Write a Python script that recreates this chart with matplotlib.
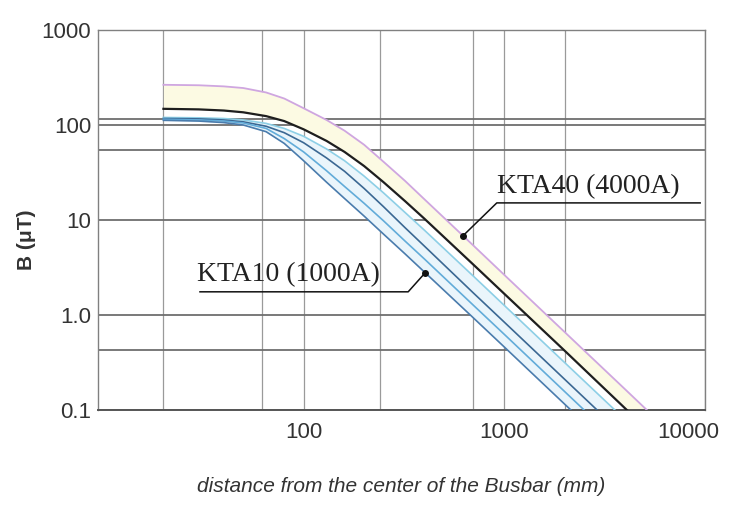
import matplotlib
matplotlib.use("Agg")
import matplotlib.pyplot as plt
from matplotlib.lines import Line2D
from matplotlib.transforms import ScaledTranslation

# ---- data ----
distance_mm = [20, 30, 40, 50, 65, 80, 100, 130, 160, 200, 250, 320, 400, 700, 1000, 2000, 4000, 6000]
b_pink  = [265, 262, 255, 245, 220, 190, 150, 113, 87, 62, 41, 25.8, 16.5, 5.4, 2.64, 0.66, 0.165, 0.073]
b_black = [148, 146, 142, 136, 124, 110, 90, 68, 52, 37, 25, 15.8, 10.3, 3.4, 1.67, 0.42, 0.104, 0.046]
b_blue4 = [120, 119, 117, 113, 104, 92, 76, 56, 42, 29, 19.3, 12, 7.8, 2.57, 1.26, 0.315, 0.079, 0.035]
b_blue3 = [117, 116, 113, 108, 97, 83, 65, 45, 32.5, 21.5, 13.8, 8.3, 5.3, 1.71, 0.84, 0.21, 0.0525, 0.023]
b_blue2 = [115, 113, 110, 105, 92, 72, 52, 33, 22.5, 15, 9.8, 6.0, 3.88, 1.27, 0.625, 0.156, 0.039, 0.017]
b_blue1 = [112, 110, 106, 100, 85, 64, 42, 25, 16.8, 11, 7.1, 4.4, 2.83, 0.935, 0.46, 0.115, 0.029, 0.013]

x_major_ticks = [100, 1000, 10000]
x_major_labels = ["100", "1000", "10000"]
y_major_ticks = [0.1, 1, 10, 100, 1000]
y_major_labels = ["0.1", "1.0", "10", "100", "1000"]
x_grid_extra = [20, 62, 240, 700, 2000]
y_grid_extra = [0.43, 55, 116]

label_kta40 = "KTA40 (4000A)"
label_kta10 = "KTA10 (1000A)"
xlabel = "distance from the center of the Busbar (mm)"
ylabel = "B (\u03bcT)"

# ---- figure ----
fig = plt.figure(figsize=(7.29, 5.16), dpi=100)
ax = fig.add_axes([98/729, (516-410)/516, 607/729, 380/516])
ax.set_xscale("log")
ax.set_yscale("log")
ax.set_xlim(9.44, 10000)
ax.set_ylim(0.1, 1000)

# fills
ax.fill_between(distance_mm, b_black, b_pink, color="#fcfae3", lw=0, zorder=1)
ax.fill_between(distance_mm, b_blue1, b_blue4, color="#eaf5fb", lw=0, zorder=1)

# curves
ax.plot(distance_mm, b_pink, color="#cfa6e0", lw=1.3, zorder=3)
ax.plot(distance_mm, b_blue4, color="#8dcfe6", lw=1.2, zorder=3)
ax.plot(distance_mm, b_blue3, color="#3b6893", lw=1.2, zorder=3)
ax.plot(distance_mm, b_blue2, color="#62acd9", lw=1.2, zorder=3)
ax.plot(distance_mm, b_blue1, color="#4a7cad", lw=1.2, zorder=3)
ax.plot(distance_mm, b_black, color="#1e1e1e", lw=1.6, zorder=4)

# ticks and grid
ax.set_xticks(x_major_ticks)
ax.set_xticklabels(x_major_labels)
ax.set_xticks(x_grid_extra, minor=True)
ax.set_xticklabels([], minor=True)
ax.set_yticks(y_major_ticks)
ax.set_yticklabels(y_major_labels)
ax.set_yticks(y_grid_extra, minor=True)
ax.set_yticklabels([], minor=True)
ax.tick_params(which="both", length=0)
ax.tick_params(axis="x", pad=9, labelsize=16, labelcolor="#333333")
ax.tick_params(axis="y", pad=5, labelsize=16, labelcolor="#333333")
for lab in ax.get_xticklabels() + ax.get_yticklabels():
    lab.set_family("Liberation Sans")
# keep the last x label inside the image
last = ax.xaxis.get_major_ticks()[-1].label1
last.set_transform(last.get_transform() + ScaledTranslation(-0.17, 0, fig.dpi_scale_trans))

ax.xaxis.grid(True, which="both", color="#9a9a9a", lw=0.9, zorder=0)
ax.yaxis.grid(True, which="both", color="#6e6e6e", lw=1.3, zorder=0)
ax.set_axisbelow(True)
for s in ax.spines.values():
    s.set_color("#808080")
    s.set_linewidth(1.0)
ax.spines["bottom"].set_color("#555555")
ax.spines["bottom"].set_linewidth(1.4)

# annotations (axes coordinates)
ax.add_line(Line2D([0.601, 0.657, 0.992], [0.458, 0.545, 0.545],
                   transform=ax.transAxes, color="#111111", lw=1.1, zorder=6))
ax.plot([0.601], [0.458], "o", ms=4, color="#111111", transform=ax.transAxes, zorder=7)
ax.text(0.657, 0.572, label_kta40, transform=ax.transAxes, fontsize=20,
        family="Liberation Serif", color="#222222", ha="left", va="baseline", zorder=7)

ax.add_line(Line2D([0.539, 0.511, 0.168], [0.361, 0.311, 0.311],
                   transform=ax.transAxes, color="#111111", lw=1.1, zorder=6))
ax.plot([0.539], [0.361], "o", ms=4, color="#111111", transform=ax.transAxes, zorder=7)
ax.text(0.163, 0.338, label_kta10, transform=ax.transAxes, fontsize=20,
        family="Liberation Serif", color="#222222", ha="left", va="baseline", zorder=7)

# axis labels
fig.text(27/729, 1 - 240/516, ylabel, rotation=90, ha="center", va="center",
         fontsize=15, fontweight="bold", family="Liberation Sans", color="#333333")
fig.text(401/729, 1 - 487/516, xlabel, ha="center", va="center",
         fontsize=15, style="italic", family="Liberation Sans", color="#333333")

fig.savefig("out.png", dpi=100)
